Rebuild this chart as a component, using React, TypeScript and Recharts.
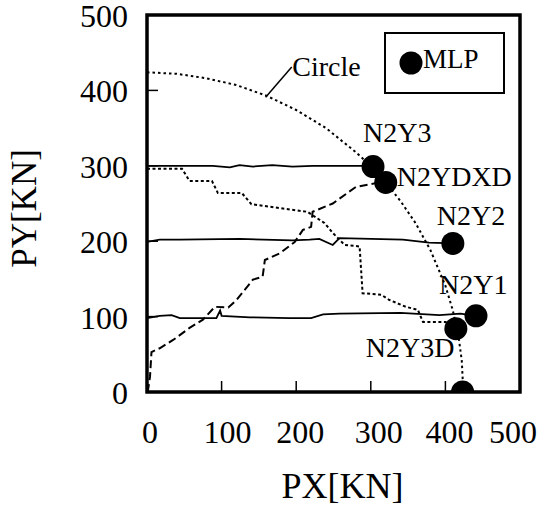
import React from 'react';
import {
  ComposedChart,
  Line,
  Scatter,
  XAxis,
  YAxis,
  ReferenceArea,
  ReferenceLine,
  ReferenceDot,
  Legend,
} from 'recharts';

const FONT = "'Liberation Serif', Tinos, 'Times New Roman', 'DejaVu Serif', 'Noto Serif', serif";

// Axis ticks
const xTicks = [0, 100, 200, 300, 400, 500];
const yTicks = [0, 100, 200, 300, 400, 500];

// Circle (dotted reference curve)
const circleX = [0, 40, 80, 120, 160, 200, 240, 280, 300, 320, 340, 360, 380, 400, 410, 418, 422, 424];
const circleY = [424, 422, 416, 407, 393, 374, 350, 318, 300, 278, 253, 224, 188, 141, 108, 71, 41, 0];

// N2Y3 path (solid, ~300)
const n2y3X = [0, 88, 111, 124, 142, 168, 195, 222, 258, 290, 303];
const n2y3Y = [300, 300, 298, 301, 299, 301, 299, 300, 300, 300, 299];

// N2Y2 path (solid, ~200)
const n2y2X = [0, 17, 44, 124, 195, 218, 231, 249, 258, 343, 378, 410];
const n2y2Y = [199, 202, 202, 203, 201, 202, 203, 195, 204, 202, 198, 197];

// N2Y1 path (solid, ~100)
const n2y1X = [0, 17, 33, 44, 93, 98, 100, 138, 191, 220, 236, 258, 340, 392, 420, 441];
const n2y1Y = [98, 101, 102, 98, 98, 108, 101, 99, 98, 98, 103, 104, 105, 102, 104, 101];

// N2Y3D path (dotted, stepping down)
const n2y3dX = [0, 47, 57, 87, 95, 127, 140, 215, 238, 249, 265, 285, 289, 314, 325, 347, 363, 370, 400, 414];
const n2y3dY = [296, 296, 280, 280, 264, 264, 249, 239, 224, 211, 195, 193, 131, 129, 122, 113, 109, 93, 93, 84];

// N2YDXD path (dashed, rising)
const n2ydxdX = [1, 4, 6, 17, 35, 57, 75, 91, 109, 120, 142, 155, 158, 178, 198, 209, 220, 222, 249, 280, 307, 320];
const n2ydxdY = [0, 20, 53, 58, 69, 85, 96, 113, 112, 122, 149, 153, 175, 184, 199, 215, 219, 239, 250, 272, 277, 278];

// MLP points
const mlpNames = ['N2Y3', 'N2YDXD', 'N2Y2', 'N2Y1', 'N2Y3D', 'N2Y0'];
const mlpX = [303, 320, 410, 441, 414, 423];
const mlpY = [299, 278, 197, 101, 84, 0];

const toPts = (xs: number[], ys: number[]) => xs.map((x, i) => ({ x, y: ys[i] }));

const circleData = toPts(circleX, circleY);
const n2y3Data = toPts(n2y3X, n2y3Y);
const n2y2Data = toPts(n2y2X, n2y2Y);
const n2y1Data = toPts(n2y1X, n2y1Y);
const n2y3dData = toPts(n2y3dX, n2y3dY);
const n2ydxdData = toPts(n2ydxdX, n2ydxdY);
const mlpData = mlpNames.map((name, i) => ({ name, x: mlpX[i], y: mlpY[i] }));

// label placement relative to marker centre (style, not data)
const labelOffset: Record<string, [number, number]> = {
  N2Y3: [-10, -25],
  N2YDXD: [11, 4],
  N2Y2: [-16, -18],
  N2Y1: [-37, -22],
  N2Y3D: [-90, 28],
  N2Y0: [5, 21],
};

// small horizontal nudges of the x tick labels (style)
const xLabelNudge: Record<number, number> = { 0: 3, 100: 6, 200: 4, 300: 8, 400: 4, 500: -7 };

const txtStyle = { fontFamily: FONT };

const XTick = (props: any) => {
  const { x, y, payload } = props;
  const dx = xLabelNudge[payload.value] || 0;
  return (
    <g>
      <line x1={x} x2={x} y1={y} y2={y - 11} stroke="#000" strokeWidth={1.5} />
      <text x={x + dx} y={y + 51} textAnchor="middle" fontSize={32} style={txtStyle} fill="#000">
        {payload.value}
      </text>
    </g>
  );
};

const YTick = (props: any) => {
  const { x, y, payload } = props;
  return (
    <g>
      <line x1={x} x2={x + 11} y1={y} y2={y} stroke="#000" strokeWidth={1.5} />
      <text x={x - 19} y={y + 12} textAnchor="end" fontSize={32} style={txtStyle} fill="#000">
        {payload.value}
      </text>
    </g>
  );
};

const MlpShape = (props: any) => {
  const { cx, cy, payload } = props;
  const off = labelOffset[payload.name] || [12, 0];
  return (
    <g>
      <circle cx={cx} cy={cy} r={11.5} fill="#000" />
      <text x={cx + off[0]} y={cy + off[1]} fontSize={28} style={txtStyle} fill="#000">
        {payload.name}
      </text>
    </g>
  );
};

const LegendBox = (props: any) => {
  const items = (props.payload || []).filter((p: any) => p.type !== 'none');
  return (
    <div
      style={{
        boxSizing: 'border-box',
        width: 121,
        height: 62,
        border: '2px solid #000',
        background: '#fff',
        display: 'flex',
        alignItems: 'center',
        paddingLeft: 13,
      }}
    >
      {items.map((it: any) => (
        <div key={it.value} style={{ display: 'flex', alignItems: 'center' }}>
          <svg width={24} height={24} style={{ display: 'block' }}>
            <circle cx={12} cy={12} r={11.5} fill="#000" />
          </svg>
          <span style={{ fontFamily: FONT, fontSize: 27, lineHeight: '27px', marginTop: -8 }}>{it.value}</span>
        </div>
      ))}
    </div>
  );
};

export default function App() {
  return (
    <div style={{ position: 'absolute', left: 0, top: 0, background: '#fff', fontFamily: FONT }}>
      <ComposedChart width={548} height={506} margin={{ top: 15, right: 28, bottom: 0, left: 0 }}>
        <XAxis
          type="number"
          dataKey="x"
          domain={[0, 500]}
          ticks={xTicks}
          interval={0}
          allowDataOverflow
          axisLine={false}
          tickLine={false}
          tickSize={0}
          tickMargin={0}
          height={114}
          tick={<XTick />}
          label={(p: any) => {
            const vb = p.viewBox || { x: 147, y: 392, width: 373 };
            return (
              <text
                x={vb.x + vb.width / 2 + 9}
                y={vb.y + 106}
                textAnchor="middle"
                fontSize={36}
                style={txtStyle}
                fill="#000"
              >
                PX[KN]
              </text>
            );
          }}
        />
        <YAxis
          type="number"
          dataKey="y"
          domain={[0, 500]}
          ticks={yTicks}
          interval={0}
          allowDataOverflow
          axisLine={false}
          tickLine={false}
          tickSize={0}
          tickMargin={0}
          width={147}
          tick={<YTick />}
          label={(p: any) => {
            const vb = p.viewBox || { x: 0, y: 15, height: 377 };
            const cx = vb.x + 24;
            const cy = vb.y + vb.height / 2 + 5;
            return (
              <text
                x={cx}
                y={cy}
                transform={`rotate(-90, ${cx}, ${cy})`}
                textAnchor="middle"
                dominantBaseline="central"
                fontSize={35}
                style={txtStyle}
                fill="#000"
              >
                PY[KN]
              </text>
            );
          }}
        />
        <Legend
          layout="horizontal"
          verticalAlign="middle"
          align="center"
          wrapperStyle={{ left: 384, top: 32, width: 121, height: 62 }}
          content={<LegendBox />}
        />
        <Line
          data={circleData}
          dataKey="y"
          stroke="#000"
          strokeWidth={2}
          strokeDasharray="2.5 3"
          dot={false}
          activeDot={false}
          legendType="none"
          isAnimationActive={false}
        />
        <Line
          data={n2y3Data}
          dataKey="y"
          stroke="#000"
          strokeWidth={1.8}
          dot={false}
          activeDot={false}
          legendType="none"
          isAnimationActive={false}
        />
        <Line
          data={n2y2Data}
          dataKey="y"
          stroke="#000"
          strokeWidth={1.8}
          dot={false}
          activeDot={false}
          legendType="none"
          isAnimationActive={false}
        />
        <Line
          data={n2y1Data}
          dataKey="y"
          stroke="#000"
          strokeWidth={1.8}
          dot={false}
          activeDot={false}
          legendType="none"
          isAnimationActive={false}
        />
        <Line
          data={n2y3dData}
          dataKey="y"
          stroke="#000"
          strokeWidth={2}
          strokeDasharray="3 2.5"
          dot={false}
          activeDot={false}
          legendType="none"
          isAnimationActive={false}
        />
        <Line
          data={n2ydxdData}
          dataKey="y"
          stroke="#000"
          strokeWidth={2}
          strokeDasharray="8 4"
          dot={false}
          activeDot={false}
          legendType="none"
          isAnimationActive={false}
        />
        <ReferenceArea
          x1={0}
          x2={500}
          y1={0}
          y2={500}
          fill="none"
          fillOpacity={0}
          stroke="#000"
          strokeWidth={3.5}
          ifOverflow="visible"
        />
        <ReferenceLine
          segment={[
            { x: 159, y: 391 },
            { x: 194, y: 431 },
          ]}
          stroke="#000"
          strokeWidth={1.5}
          ifOverflow="visible"
        />
        <ReferenceDot
          x={188}
          y={432}
          r={0}
          fill="none"
          stroke="none"
          ifOverflow="visible"
          label={(p: any) => {
            const vb = p.viewBox || { x: 0, y: 0 };
            return (
              <text x={vb.x + 5} y={vb.y + 10} fontSize={28} style={txtStyle} fill="#000">
                Circle
              </text>
            );
          }}
        />
        <Scatter
          name="MLP"
          data={mlpData}
          dataKey="y"
          fill="#000"
          legendType="circle"
          shape={<MlpShape />}
          isAnimationActive={false}
        />
      </ComposedChart>
    </div>
  );
}
